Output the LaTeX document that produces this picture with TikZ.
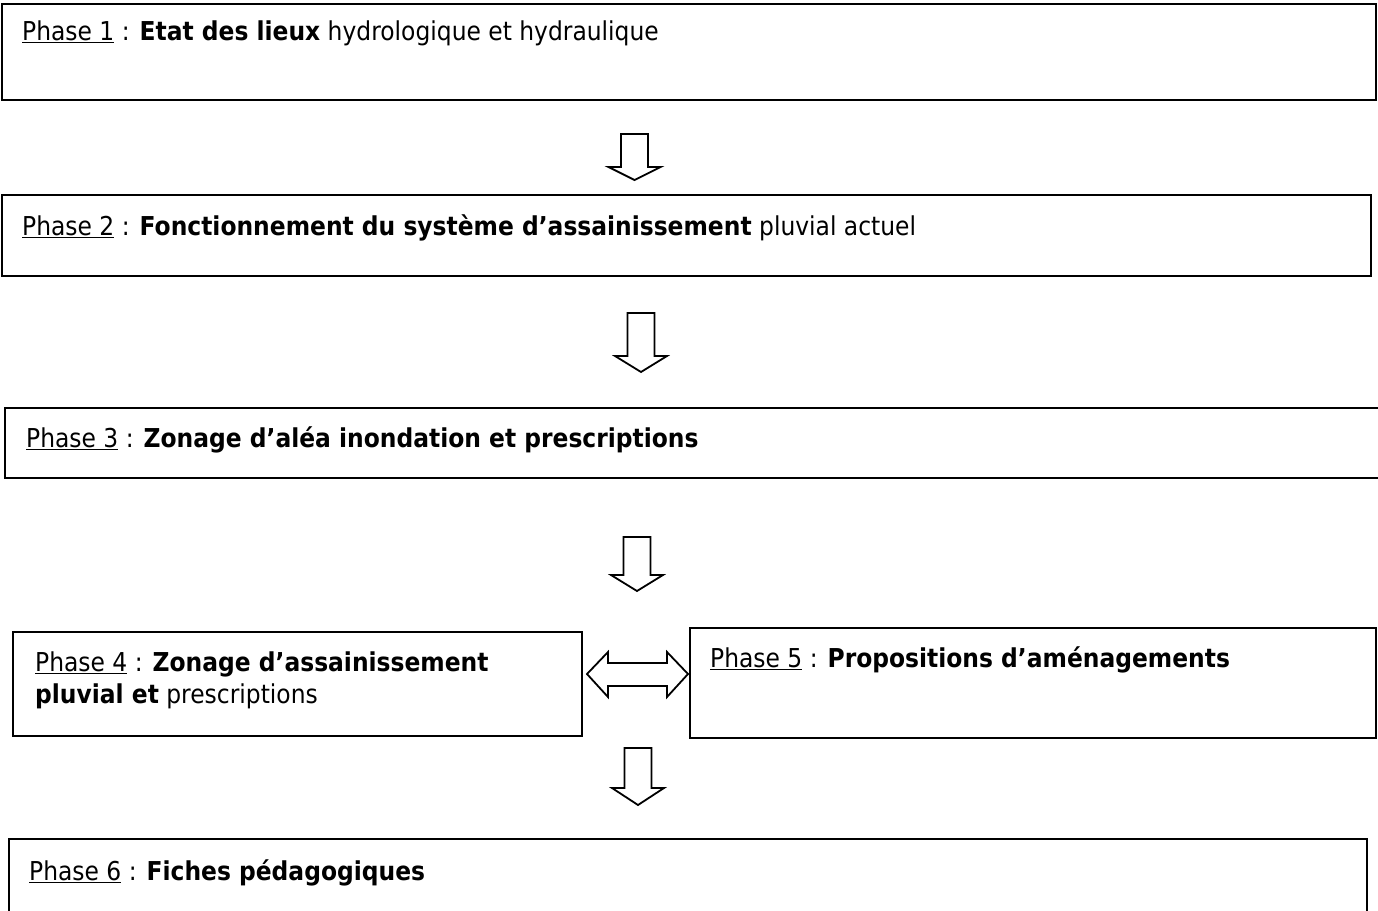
\documentclass[tikz,border=0pt]{standalone}
\usepackage{fontspec}
\setmainfont{DejaVu Sans}[FakeStretch=0.9]
\begin{document}
\begin{tikzpicture}[x=1pt,y=-1pt,
  box/.style={draw=black,line width=2pt},
  lbl/.style={anchor=base west,inner sep=0pt,font=\fontsize{26}{32}\selectfont,align=left},
  blk/.style={draw=black,line width=1.8pt,line join=miter,fill=white}]
\useasboundingbox[fill=white] (0,0) rectangle (1378,910);
\newcommand\ph[1]{\underline{Phase~#1}}
% boxes
\draw[box] (2,4) rectangle (1376,100);
\node[lbl] (t1) at (22,40) {\ph{1} : \textbf{Etat des lieux} hydrologique et hydraulique};
\draw[box] (2,195) rectangle (1371,276);
\node[lbl] (t2) at (22,235) {\ph{2} : \textbf{Fonctionnement du système d’assainissement} pluvial actuel};
\draw[box] (5,408) rectangle (1385,478);
\node[lbl] (t3) at (26,447) {\ph{3} : \textbf{Zonage d’aléa inondation et prescriptions}};
\draw[box] (13,632) rectangle (582,736);
\node[lbl] (t4) at (35,703) {\ph{4} : \textbf{Zonage d’assainissement}\\\textbf{pluvial et} prescriptions};
\draw[box] (690,628) rectangle (1376,738);
\node[lbl] (t5) at (710,667) {\ph{5} : \textbf{Propositions d’aménagements}};
\draw[box] (9,839) rectangle (1367,918);
\node[lbl] (t6) at (29,880) {\ph{6} : \textbf{Fiches pédagogiques}};
% down arrows: centre x, top, head start, tip
\newcommand\darr[4]{\draw[blk] (#1-13.5,#2) -- (#1+13.5,#2) -- (#1+13.5,#3) -- (#1+26,#3) -- (#1,#4) -- (#1-26,#3) -- (#1-13.5,#3) -- cycle;}
\darr{634.5}{134}{167}{180}
\darr{641}{313}{356}{372}
\darr{637}{537}{575}{591}
\darr{638}{748}{788}{805}
% double arrow
\draw[blk] (587,674) -- (608,652) -- (608,663) -- (667,663) -- (667,652) -- (688,674)
  -- (667,697) -- (667,686) -- (608,686) -- (608,697) -- cycle;
\end{tikzpicture}
\end{document}
